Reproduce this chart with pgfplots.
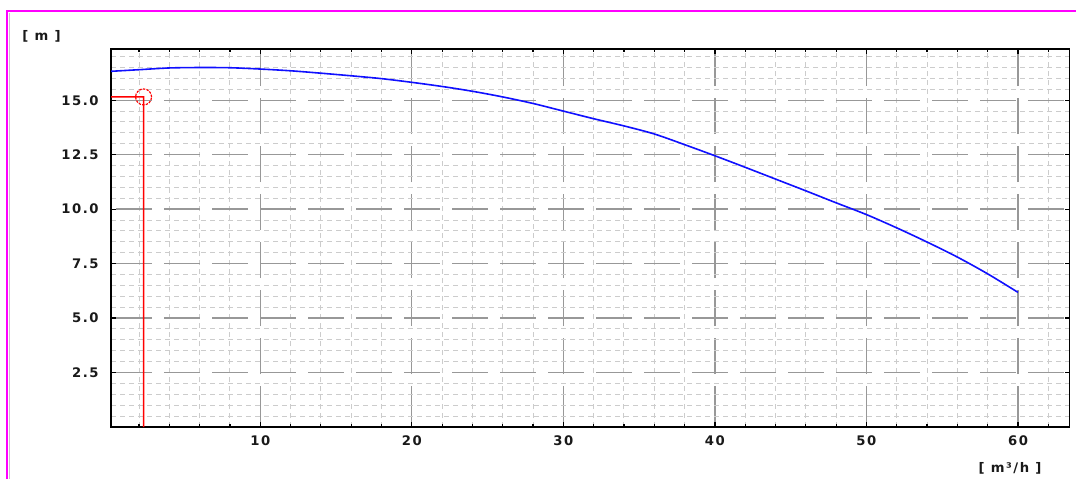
\documentclass[border=0pt]{standalone}
\usepackage{fontspec}
\usepackage{pgfplots}
\pgfplotsset{compat=1.18}
\newfontfamily\lab{DejaVu Sans}[LetterSpace=12]
\definecolor{mag}{HTML}{FF00FF}
\definecolor{majg}{HTML}{989898}
\definecolor{ming}{HTML}{CCCCCC}
\definecolor{curve}{HTML}{1010FF}
\definecolor{opred}{HTML}{FF0000}
\begin{document}
\begin{tikzpicture}
\useasboundingbox (0,0) rectangle (538pt,239.5pt);
\fill[white] (0,0) rectangle (538pt,239.5pt);
\draw[mag, line width=1.1pt] (3.5pt,0) -- (3.5pt,234.2pt) -- (538pt,234.2pt);
\draw[gray!45, line width=0.5pt] (4.9pt,0) -- (4.9pt,233pt);
\node[font=\lab\bfseries\fontsize{6.6}{7}\selectfont, text=black!90] at (20.75pt,221.5pt) {[ m ]};
\node[font=\lab\bfseries\fontsize{6.6}{7}\selectfont, text=black!90] at (505pt,5.5pt) {[ m³/h ]};
\begin{axis}[
  at={(55.5pt,26pt)}, anchor=south west,
  scale only axis, width=479.25pt, height=189pt,
  xmin=0.15, xmax=63.4, ymin=0, ymax=17.35,
  xtick={10,20,30,40,50,60},
  xticklabels={10,20,30,40,50,60},
  ytick={2.5,5,7.5,10,12.5,15},
  yticklabels={2.5,5.0,7.5,10.0,12.5,15.0},
  minor xtick={2,4,6,8,12,14,16,18,22,24,26,28,32,34,36,38,42,44,46,48,52,54,56,58,62},
  minor ytick={0.5,1,1.5,2,3,3.5,4,4.5,5.5,6,6.5,7,8,8.5,9,9.5,10.5,11,11.5,12,13,13.5,14,14.5,15.5,16,16.5,17},
  grid=both,
  major grid style={majg, line width=0.65pt, dash pattern=on 18pt off 6pt, dash phase=21.5pt},
  minor grid style={ming, line width=0.5pt, dash pattern=on 2.5pt off 2pt},
  tick align=inside,
  major tick length=2.5pt, minor tick length=1.6pt,
  tick style={black, line width=0.6pt},
  minor y tick style={draw=none},
  axis line style={black, line width=0.8pt},
  ticklabel style={font=\lab\bfseries\fontsize{6.6}{7}\selectfont, text=black!90},
  yticklabel style={anchor=east, inner sep=0pt, xshift=-6pt},
  xticklabel style={anchor=north, inner sep=0pt, yshift=-4.3pt},
]
\addplot[curve, line width=0.8pt, smooth, tension=0.5] coordinates {
(0,16.32) (2,16.40) (4,16.48) (6,16.50) (8,16.49) (10,16.43) (12,16.35)
(14,16.24) (16,16.12) (18,15.99) (20,15.82) (22,15.63) (24,15.41)
(26,15.15) (28,14.85) (30,14.50) (32,14.15) (34,13.82) (36,13.45)
(38,12.96) (40,12.45) (42,11.92) (44,11.38) (46,10.84) (48,10.29)
(50,9.75) (52,9.14) (54,8.49) (56,7.80) (58,7.03) (60,6.18)
};
\addplot[draw=opred, line width=0.75pt] coordinates {(0.15,15.15) (2.3,15.15) (2.31,0.0)};
\addplot[opred, only marks, mark=o, mark size=4pt, mark options={line width=0.6pt, dash pattern=on 1.2pt off 0.6pt}] coordinates {(2.3,15.15)};
\end{axis}
\end{tikzpicture}
\end{document}
